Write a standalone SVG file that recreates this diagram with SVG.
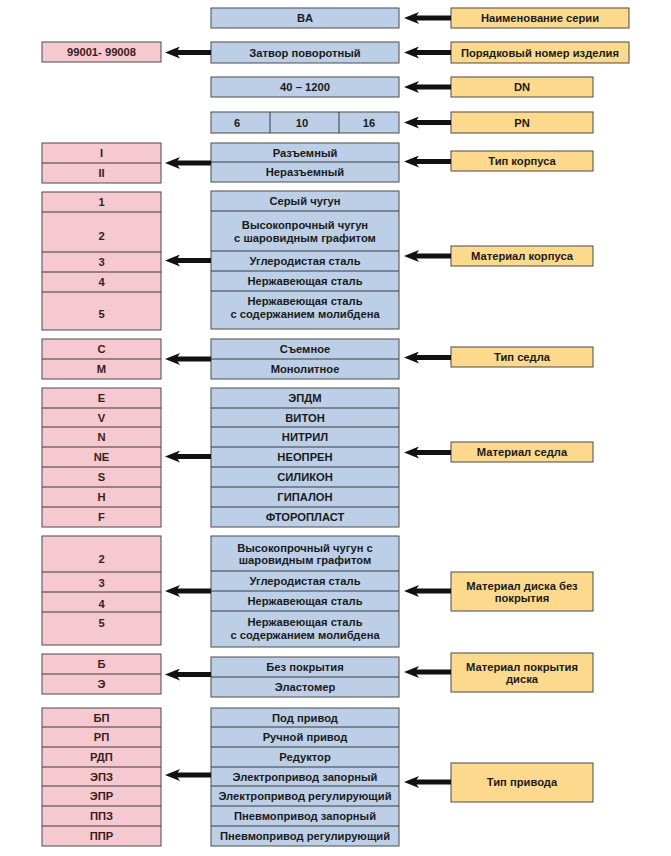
<svg xmlns="http://www.w3.org/2000/svg" width="671" height="856" viewBox="0 0 671 856">
<defs>
<style>
.p{fill:#f6c8d0;stroke:#4a4a4a;stroke-width:1}
.b{fill:#bdcfe6;stroke:#4a4a4a;stroke-width:1}
.y{fill:#fcd98c;stroke:#4a4a4a;stroke-width:1}
.d{stroke:#3a3a3a;stroke-width:1}
text{font-family:"Liberation Sans",Arial,sans-serif;font-weight:bold;font-size:11.2px;text-anchor:middle;fill:#1a1a1a}
.pt{fill:#3a1c20}
.a{stroke:#111;stroke-width:5;fill:none;marker-end:url(#ah)}
</style>
<marker id="ah" viewBox="0 0 15 12" refX="4" refY="6" markerWidth="15" markerHeight="12" markerUnits="userSpaceOnUse" orient="auto">
<path d="M0,0 L15,6 L0,12 L4,6 Z" fill="#111"/>
</marker>
</defs>
<rect width="671" height="856" fill="#ffffff"/>

<!-- Series -->
<g id="series">
<rect class="b" x="211" y="8" width="188" height="20"/>
<text x="305" y="22">BA</text>
</g>
<g id="series-label">
<rect class="y" x="451" y="8" width="178" height="20"/>
<text x="540" y="22">Наименование серии</text>
</g>

<!-- Product number -->
<g id="number-code">
<rect class="p" x="42" y="42" width="119" height="20"/>
<text class="pt" x="101.5" y="56">99001- 99008</text>
</g>
<g id="number">
<rect class="b" x="211" y="42" width="188" height="21"/>
<text x="305" y="56.5">Затвор поворотный</text>
</g>
<g id="number-label">
<rect class="y" x="451" y="42" width="178" height="21"/>
<text x="540" y="56.5">Порядковый номер изделия</text>
</g>

<!-- DN -->
<g id="dn">
<rect class="b" x="211" y="77" width="188" height="20"/>
<text x="305" y="91">40 – 1200</text>
</g>
<g id="dn-label">
<rect class="y" x="451" y="77" width="142" height="20"/>
<text x="522" y="91">DN</text>
</g>

<!-- PN -->
<g id="pn">
<rect class="b" x="211" y="112" width="188" height="21"/>
<line class="d" x1="270" y1="112" x2="270" y2="133"/>
<line class="d" x1="339" y1="112" x2="339" y2="133"/>
<text x="237" y="126.5">6</text>
<text x="302" y="126.5">10</text>
<text x="369" y="126.5">16</text>
</g>
<g id="pn-label">
<rect class="y" x="451" y="112" width="142" height="21"/>
<text x="522" y="126.5">PN</text>
</g>

<!-- Body type -->
<g id="body-type-code">
<rect class="p" x="42" y="143" width="119" height="40"/>
<line class="d" x1="42" y1="163" x2="161" y2="163"/>
<text class="pt" x="101.5" y="157">I</text>
<text class="pt" x="101.5" y="177">II</text>
</g>
<g id="body-type">
<rect class="b" x="211" y="143" width="188" height="39"/>
<line class="d" x1="211" y1="162" x2="399" y2="162"/>
<text x="305" y="156.5">Разъемный</text>
<text x="305" y="176">Неразъемный</text>
</g>
<g id="body-type-label">
<rect class="y" x="451" y="151" width="142" height="20"/>
<text x="522" y="165">Тип корпуса</text>
</g>

<!-- Body material -->
<g id="body-material-code">
<rect class="p" x="42" y="192" width="119" height="138"/>
<line class="d" x1="42" y1="212" x2="161" y2="212"/>
<line class="d" x1="42" y1="252" x2="161" y2="252"/>
<line class="d" x1="42" y1="272" x2="161" y2="272"/>
<line class="d" x1="42" y1="292" x2="161" y2="292"/>
<text class="pt" x="101.5" y="206">1</text>
<text class="pt" x="101.5" y="240">2</text>
<text class="pt" x="101.5" y="266">3</text>
<text class="pt" x="101.5" y="286">4</text>
<text class="pt" x="101.5" y="318">5</text>
</g>
<g id="body-material">
<rect class="b" x="211" y="191" width="188" height="138"/>
<line class="d" x1="211" y1="211" x2="399" y2="211"/>
<line class="d" x1="211" y1="251" x2="399" y2="251"/>
<line class="d" x1="211" y1="271" x2="399" y2="271"/>
<line class="d" x1="211" y1="291" x2="399" y2="291"/>
<text x="305" y="205">Серый чугун</text>
<text x="305" y="229">Высокопрочный чугун</text>
<text x="305" y="242">с шаровидным графитом</text>
<text x="305" y="265">Углеродистая сталь</text>
<text x="305" y="285">Нержавеющая сталь</text>
<text x="305" y="305">Нержавеющая сталь</text>
<text x="305" y="318">с содержанием молибдена</text>
</g>
<g id="body-material-label">
<rect class="y" x="451" y="246" width="142" height="20"/>
<text x="522" y="260">Материал корпуса</text>
</g>

<!-- Seat type -->
<g id="seat-type-code">
<rect class="p" x="42" y="339" width="119" height="40"/>
<line class="d" x1="42" y1="359" x2="161" y2="359"/>
<text class="pt" x="101.5" y="353">C</text>
<text class="pt" x="101.5" y="373">M</text>
</g>
<g id="seat-type">
<rect class="b" x="211" y="339" width="188" height="40"/>
<line class="d" x1="211" y1="359" x2="399" y2="359"/>
<text x="305" y="353">Съемное</text>
<text x="305" y="373">Монолитное</text>
</g>
<g id="seat-type-label">
<rect class="y" x="451" y="347" width="142" height="20"/>
<text x="522" y="361">Тип седла</text>
</g>

<!-- Seat material -->
<g id="seat-material-code">
<rect class="p" x="42" y="388" width="119" height="139"/>
<line class="d" x1="42" y1="408" x2="161" y2="408"/>
<line class="d" x1="42" y1="427" x2="161" y2="427"/>
<line class="d" x1="42" y1="447" x2="161" y2="447"/>
<line class="d" x1="42" y1="467" x2="161" y2="467"/>
<line class="d" x1="42" y1="487" x2="161" y2="487"/>
<line class="d" x1="42" y1="507" x2="161" y2="507"/>
<text class="pt" x="101.5" y="402">E</text>
<text class="pt" x="101.5" y="421.5">V</text>
<text class="pt" x="101.5" y="441">N</text>
<text class="pt" x="101.5" y="461">NE</text>
<text class="pt" x="101.5" y="481">S</text>
<text class="pt" x="101.5" y="501">H</text>
<text class="pt" x="101.5" y="521">F</text>
</g>
<g id="seat-material">
<rect class="b" x="211" y="388" width="188" height="139"/>
<line class="d" x1="211" y1="408" x2="399" y2="408"/>
<line class="d" x1="211" y1="427" x2="399" y2="427"/>
<line class="d" x1="211" y1="447" x2="399" y2="447"/>
<line class="d" x1="211" y1="467" x2="399" y2="467"/>
<line class="d" x1="211" y1="487" x2="399" y2="487"/>
<line class="d" x1="211" y1="507" x2="399" y2="507"/>
<text x="305" y="402">ЭПДМ</text>
<text x="305" y="421.5">ВИТОН</text>
<text x="305" y="441">НИТРИЛ</text>
<text x="305" y="461">НЕОПРЕН</text>
<text x="305" y="481">СИЛИКОН</text>
<text x="305" y="501">ГИПАЛОН</text>
<text x="305" y="521">ФТОРОПЛАСТ</text>
</g>
<g id="seat-material-label">
<rect class="y" x="451" y="442" width="142" height="20"/>
<text x="522" y="456">Материал седла</text>
</g>

<!-- Disk material -->
<g id="disk-material-code">
<rect class="p" x="42" y="536" width="119" height="109"/>
<line class="d" x1="42" y1="572" x2="161" y2="572"/>
<line class="d" x1="42" y1="592" x2="161" y2="592"/>
<line class="d" x1="42" y1="612" x2="161" y2="612"/>
<text class="pt" x="101.5" y="563">2</text>
<text class="pt" x="101.5" y="587">3</text>
<text class="pt" x="101.5" y="607.5">4</text>
<text class="pt" x="101.5" y="627">5</text>
</g>
<g id="disk-material">
<rect class="b" x="211" y="536" width="188" height="111"/>
<line class="d" x1="211" y1="571" x2="399" y2="571"/>
<line class="d" x1="211" y1="591" x2="399" y2="591"/>
<line class="d" x1="211" y1="611" x2="399" y2="611"/>
<text x="305" y="551.5">Высокопрочный чугун с</text>
<text x="305" y="563.5">шаровидным графитом</text>
<text x="305" y="585">Углеродистая сталь</text>
<text x="305" y="605">Нержавеющая сталь</text>
<text x="305" y="626">Нержавеющая сталь</text>
<text x="305" y="639">с содержанием молибдена</text>
</g>
<g id="disk-material-label">
<rect class="y" x="451" y="572" width="142" height="39"/>
<text x="522" y="590">Материал диска без</text>
<text x="522" y="602">покрытия</text>
</g>

<!-- Disk coating -->
<g id="coating-code">
<rect class="p" x="42" y="654" width="119" height="40"/>
<line class="d" x1="42" y1="674" x2="161" y2="674"/>
<text class="pt" x="101.5" y="668">Б</text>
<text class="pt" x="101.5" y="688">Э</text>
</g>
<g id="coating">
<rect class="b" x="211" y="657" width="188" height="40"/>
<line class="d" x1="211" y1="677" x2="399" y2="677"/>
<text x="305" y="671">Без покрытия</text>
<text x="305" y="691">Эластомер</text>
</g>
<g id="coating-label">
<rect class="y" x="451" y="653" width="142" height="39"/>
<text x="522" y="671">Материал покрытия</text>
<text x="522" y="683">диска</text>
</g>

<!-- Actuator -->
<g id="actuator-code">
<rect class="p" x="42" y="708" width="119" height="138"/>
<line class="d" x1="42" y1="727" x2="161" y2="727"/>
<line class="d" x1="42" y1="747" x2="161" y2="747"/>
<line class="d" x1="42" y1="767" x2="161" y2="767"/>
<line class="d" x1="42" y1="786" x2="161" y2="786"/>
<line class="d" x1="42" y1="806" x2="161" y2="806"/>
<line class="d" x1="42" y1="826" x2="161" y2="826"/>
<text class="pt" x="101.5" y="721.5">БП</text>
<text class="pt" x="101.5" y="741">РП</text>
<text class="pt" x="101.5" y="761">РДП</text>
<text class="pt" x="101.5" y="780.5">ЭПЗ</text>
<text class="pt" x="101.5" y="800">ЭПР</text>
<text class="pt" x="101.5" y="820">ППЗ</text>
<text class="pt" x="101.5" y="840">ППР</text>
</g>
<g id="actuator">
<rect class="b" x="211" y="708" width="188" height="138"/>
<line class="d" x1="211" y1="727" x2="399" y2="727"/>
<line class="d" x1="211" y1="747" x2="399" y2="747"/>
<line class="d" x1="211" y1="767" x2="399" y2="767"/>
<line class="d" x1="211" y1="786" x2="399" y2="786"/>
<line class="d" x1="211" y1="806" x2="399" y2="806"/>
<line class="d" x1="211" y1="826" x2="399" y2="826"/>
<text x="305" y="721.5">Под привод</text>
<text x="305" y="741">Ручной привод</text>
<text x="305" y="761">Редуктор</text>
<text x="305" y="780.5">Электропривод запорный</text>
<text x="305" y="800">Электропривод регулирующий</text>
<text x="305" y="820">Пневмопривод запорный</text>
<text x="305" y="840">Пневмопривод регулирующий</text>
</g>
<g id="actuator-label">
<rect class="y" x="451" y="763" width="142" height="39"/>
<text x="522" y="786">Тип привода</text>
</g>

<!-- Connectors -->
<g id="connectors">
<line class="a" x1="451" y1="18" x2="415" y2="18"/>
<line class="a" x1="451" y1="52.5" x2="415" y2="52.5"/>
<line class="a" x1="451" y1="87" x2="415" y2="87"/>
<line class="a" x1="451" y1="122.5" x2="415" y2="122.5"/>
<line class="a" x1="451" y1="161.5" x2="415" y2="161.5"/>
<line class="a" x1="451" y1="256" x2="415" y2="256"/>
<line class="a" x1="451" y1="357.5" x2="415" y2="357.5"/>
<line class="a" x1="451" y1="452.5" x2="415" y2="452.5"/>
<line class="a" x1="451" y1="591" x2="415" y2="591"/>
<line class="a" x1="451" y1="672" x2="415" y2="672"/>
<line class="a" x1="451" y1="782" x2="415" y2="782"/>
<line class="a" x1="211" y1="52.5" x2="176" y2="52.5"/>
<line class="a" x1="211" y1="163" x2="176" y2="163"/>
<line class="a" x1="211" y1="260.5" x2="176" y2="260.5"/>
<line class="a" x1="211" y1="359" x2="176" y2="359"/>
<line class="a" x1="211" y1="456.5" x2="176" y2="456.5"/>
<line class="a" x1="211" y1="591" x2="176" y2="591"/>
<line class="a" x1="211" y1="674.5" x2="176" y2="674.5"/>
<line class="a" x1="211" y1="775" x2="176" y2="775"/>
</g>
</svg>
